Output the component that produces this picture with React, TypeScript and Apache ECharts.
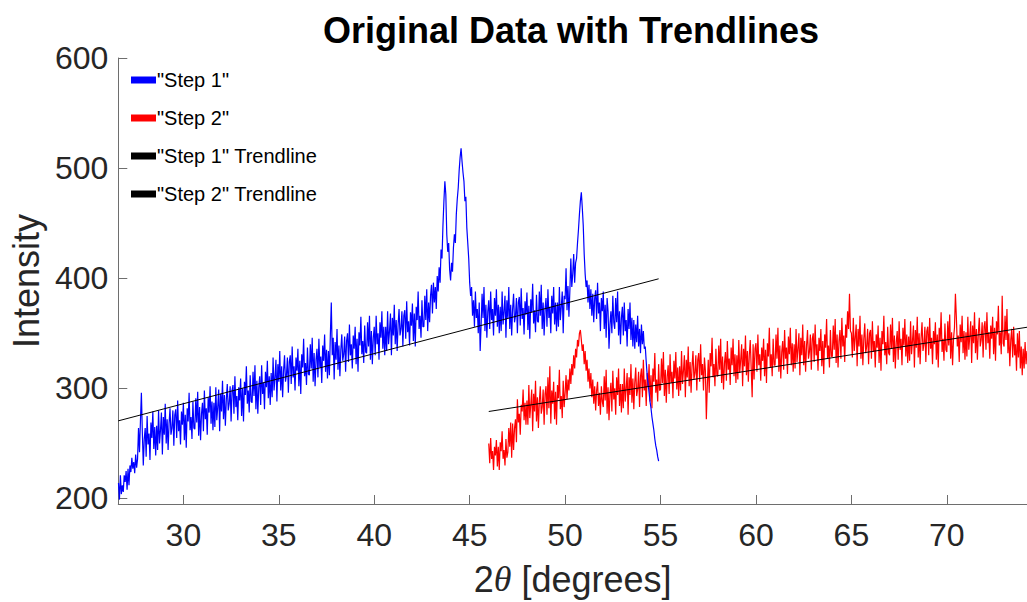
import React, { useEffect, useRef } from "react";
import * as echarts from "echarts";

// ---------- data ----------
const TITLE = "Original Data with Trendlines";
const SERIES_NAMES = ['"Step 1"', '"Step 2"', '"Step 1" Trendline', '"Step 2" Trendline'];

const SCAN_STEP = 0.05;

// Step 1: 26.60 .. 54.90 deg (one row = 1 degree)
const STEP1_START = 26.6;
const step1Values = [
  214, 199, 221, 204, 212, 206, 221, 215, 225, 208, 227, 212, 230, 224, 237, 227, 233, 223, 240, 228,
  236, 264, 242, 270, 296, 260, 230, 254, 264, 238, 275, 249, 259, 235, 269, 255, 279, 245, 265, 239,
  266, 244, 280, 250, 262, 278, 240, 274, 258, 286, 250, 272, 244, 268, 282, 258, 264, 280, 248, 276,
  281, 255, 289, 261, 271, 249, 279, 267, 287, 253, 276, 246, 282, 270, 296, 262, 274, 254, 288, 264,
  263, 291, 269, 297, 257, 283, 253, 277, 287, 261, 298, 272, 282, 258, 292, 278, 302, 268, 288, 262,
  287, 265, 301, 271, 283, 299, 261, 295, 279, 307, 272, 294, 266, 290, 304, 280, 286, 302, 270, 298,
  303, 277, 311, 283, 293, 271, 301, 289, 309, 275, 300, 270, 306, 294, 320, 286, 298, 278, 312, 288,
  287, 315, 293, 321, 281, 307, 277, 301, 311, 285, 321, 295, 305, 281, 315, 301, 325, 291, 311, 285,
  314, 292, 328, 298, 310, 326, 288, 322, 306, 334, 298, 320, 292, 316, 330, 306, 312, 328, 296, 324,
  330, 304, 338, 310, 320, 298, 328, 316, 336, 302, 325, 295, 331, 319, 345, 311, 323, 303, 337, 313,
  312, 340, 318, 346, 306, 332, 302, 326, 336, 310, 345, 319, 329, 305, 339, 325, 349, 315, 335, 309,
  334, 312, 348, 378, 330, 346, 308, 342, 326, 354, 317, 339, 311, 335, 349, 325, 331, 347, 315, 343,
  350, 324, 358, 330, 340, 318, 348, 336, 356, 322, 345, 315, 351, 339, 365, 331, 343, 323, 357, 333,
  332, 360, 338, 366, 326, 352, 322, 346, 356, 330, 366, 340, 350, 326, 360, 346, 370, 336, 356, 330,
  356, 334, 370, 340, 352, 368, 330, 364, 348, 376, 340, 362, 334, 358, 372, 348, 354, 370, 338, 366,
  371, 345, 379, 351, 361, 339, 369, 357, 377, 343, 368, 338, 374, 362, 388, 354, 366, 346, 380, 356,
  356, 384, 362, 390, 352, 378, 360, 384, 394, 368, 396, 378, 392, 372, 402, 388, 410, 396, 426, 418,
  448, 470, 488, 476, 440, 424, 432, 408, 398, 414, 406, 428, 440, 432, 458, 472, 482, 498, 510, 518,
  506, 496, 488, 470, 474, 446, 432, 418, 396, 384, 392, 366, 380, 356, 388, 364, 372, 350, 378, 334,
  358, 386, 364, 392, 352, 376, 346, 370, 380, 354, 388, 362, 372, 348, 382, 366, 390, 356, 376, 350,
  374, 352, 388, 358, 370, 384, 346, 380, 364, 392, 354, 376, 348, 372, 386, 360, 366, 382, 350, 378,
  383, 357, 391, 363, 373, 349, 379, 367, 387, 353, 375, 345, 381, 369, 395, 359, 371, 351, 385, 361,
  360, 388, 366, 394, 354, 378, 348, 372, 382, 356, 390, 364, 374, 350, 384, 368, 392, 358, 378, 352,
  378, 356, 392, 362, 374, 388, 350, 384, 381, 409, 371, 393, 365, 389, 418, 392, 404, 422, 396, 414,
  418, 432, 444, 458, 470, 478, 464, 448, 422, 404, 392, 398, 378, 394, 372, 390, 366, 386, 360, 382,
  389, 363, 396, 368, 378, 352, 382, 370, 388, 354, 376, 346, 382, 370, 336, 358, 370, 350, 384, 360,
  354, 382, 360, 388, 348, 370, 340, 364, 374, 348, 378, 352, 362, 338, 372, 354, 378, 344, 364, 338,
  362, 336, 358, 342, 366, 338, 354, 332, 358, 340, 352, 336, 338, 324, 312, 304, 296, 288, 282, 274,
  268, 262, 254, 248, 244, 238, 234,
];

// Step 2: 46.00 .. 74.20 deg (one row = 1 degree)
const STEP2_START = 46.0;
const step2Values = [
  250, 232, 255, 236, 243, 226, 247, 239, 253, 229, 247, 226, 251, 243, 261, 236, 244, 230, 254, 237,
  242, 264, 247, 269, 237, 268, 244, 264, 272, 251, 290, 269, 277, 258, 285, 279, 299, 271, 287, 267,
  289, 267, 303, 273, 285, 299, 261, 295, 279, 307, 270, 292, 264, 288, 302, 277, 283, 299, 267, 295,
  302, 276, 310, 282, 320, 268, 298, 286, 306, 272, 297, 267, 303, 291, 317, 281, 293, 273, 307, 283,
  296, 312, 290, 308, 298, 318, 304, 322, 312, 330, 318, 336, 328, 344, 338, 350, 353, 344, 334, 340,
  322, 334, 316, 326, 306, 318, 300, 314, 292, 308, 286, 302, 280, 298, 306, 284, 296, 276, 302, 288,
  283, 311, 289, 317, 277, 301, 271, 295, 305, 279, 316, 290, 300, 276, 310, 294, 318, 284, 304, 278,
  304, 282, 318, 288, 300, 314, 276, 310, 294, 322, 287, 309, 281, 305, 319, 293, 299, 315, 283, 311,
  318, 292, 326, 298, 308, 284, 314, 302, 322, 288, 312, 282, 318, 306, 332, 296, 308, 288, 322, 298,
  299, 327, 305, 333, 293, 317, 287, 311, 321, 295, 331, 305, 315, 291, 325, 309, 333, 299, 319, 293,
  320, 298, 334, 304, 316, 330, 292, 326, 310, 338, 302, 324, 296, 320, 334, 308, 314, 330, 298, 326,
  332, 306, 340, 312, 322, 298, 328, 316, 272, 302, 326, 296, 332, 320, 346, 310, 322, 302, 336, 312,
  311, 339, 317, 345, 305, 329, 299, 323, 333, 307, 343, 317, 327, 303, 337, 321, 345, 311, 331, 305,
  330, 308, 344, 314, 326, 340, 302, 336, 320, 348, 312, 334, 306, 330, 344, 318, 292, 340, 308, 336,
  341, 315, 349, 321, 331, 307, 337, 325, 345, 311, 335, 305, 341, 329, 355, 319, 331, 311, 345, 321,
  321, 349, 327, 355, 315, 339, 309, 333, 343, 317, 353, 327, 337, 313, 347, 331, 355, 321, 341, 315,
  340, 318, 354, 324, 336, 350, 312, 346, 330, 358, 321, 343, 315, 339, 353, 327, 333, 349, 317, 345,
  350, 324, 358, 330, 340, 316, 346, 334, 354, 320, 343, 313, 349, 337, 363, 327, 339, 319, 353, 329,
  329, 357, 335, 363, 323, 349, 319, 343, 353, 327, 364, 338, 348, 324, 358, 346, 370, 354, 386, 352,
  350, 328, 364, 334, 346, 358, 320, 354, 338, 366, 327, 349, 321, 345, 359, 332, 338, 354, 322, 350,
  353, 327, 361, 333, 343, 319, 349, 337, 357, 323, 346, 316, 352, 340, 366, 330, 342, 322, 356, 332,
  330, 358, 336, 364, 324, 348, 318, 342, 352, 326, 361, 335, 345, 321, 355, 339, 363, 329, 349, 323,
  347, 325, 361, 331, 343, 357, 319, 353, 337, 365, 328, 350, 322, 346, 360, 334, 340, 356, 324, 352,
  356, 330, 364, 336, 346, 322, 352, 340, 360, 326, 349, 319, 355, 343, 369, 333, 345, 325, 359, 335,
  333, 361, 339, 367, 327, 351, 321, 345, 355, 386, 364, 338, 348, 324, 358, 342, 366, 332, 352, 326,
  351, 329, 365, 335, 347, 361, 323, 357, 341, 369, 332, 354, 326, 350, 364, 338, 344, 360, 328, 356,
  361, 335, 369, 341, 351, 327, 357, 345, 365, 331, 355, 325, 361, 349, 375, 339, 351, 331, 384, 341,
  338, 366, 344, 372, 332, 350, 320, 344, 354, 328, 356, 330, 340, 316, 350, 328, 352, 318, 338, 312,
  336, 318, 342, 322, 334,
];

// Trendline end points [2θ, intensity]
const trend1 = [
  [26.59, 270.5],
  [54.9, 399.5],
];
const trend2 = [
  [46.0, 279],
  [74.2, 355.5],
];

// axis ranges
const X_MIN = 26.59;
const X_MAX = 74.2;
const Y_MIN = 195;
const Y_MAX = 600;

const FONT = "'Liberation Sans', Arial, Helvetica, sans-serif";
const TEXT = "#262626";
const AXIS = "#6e6e6e";

function toPairs(start: number, values: number[]) {
  return values.map((v, i) => [Number((start + i * SCAN_STEP).toFixed(2)), v]);
}

export default function App() {
  const ref = useRef<HTMLDivElement>(null);

  useEffect(() => {
    if (!ref.current) return;
    const chart = echarts.init(ref.current, null, { renderer: "svg" });
    chart.setOption({
      animation: false,
      backgroundColor: "#ffffff",
      textStyle: { fontFamily: FONT },
      title: {
        text: TITLE,
        left: 323,
        top: 12,
        padding: 0,
        textStyle: { fontSize: 36, fontWeight: "bold", color: "#000", fontFamily: FONT },
      },
      legend: {
        data: SERIES_NAMES,
        orient: "vertical",
        left: 131,
        top: 70,
        padding: 0,
        itemWidth: 25,
        itemHeight: 7,
        itemGap: 18,
        icon: "rect",
        selectedMode: false,
        textStyle: {
          fontSize: 20,
          lineHeight: 20,
          color: "#000",
          fontFamily: FONT,
          padding: [0, 0, 0, -4],
        },
      },
      grid: { left: 111, right: 0, top: 58, bottom: 94, containLabel: false },
      xAxis: {
        type: "value",
        min: X_MIN,
        max: X_MAX,
        splitNumber: 10,
        axisLine: { show: true, lineStyle: { color: AXIS, width: 1 } },
        axisTick: { show: true, inside: true, length: 9, lineStyle: { color: AXIS } },
        axisLabel: {
          fontSize: 32,
          color: TEXT,
          margin: 15,
          fontFamily: FONT,
          showMinLabel: false,
          showMaxLabel: false,
        },
        splitLine: { show: false },
        name: "2{i|θ} [degrees]",
        nameLocation: "middle",
        nameGap: 57,
        nameTextStyle: {
          fontSize: 36,
          color: TEXT,
          fontFamily: FONT,
          rich: {
            i: { fontSize: 36, fontStyle: "italic", color: TEXT, fontFamily: "'Liberation Serif', serif" },
          },
        },
      },
      yAxis: {
        type: "value",
        min: Y_MIN,
        max: Y_MAX,
        splitNumber: 4,
        axisLine: { show: true, lineStyle: { color: AXIS, width: 1 } },
        axisTick: { show: true, inside: true, length: 9, lineStyle: { color: AXIS } },
        axisLabel: {
          fontSize: 32,
          color: TEXT,
          margin: 10,
          fontFamily: FONT,
          showMinLabel: false,
        },
        splitLine: { show: false },
        name: "Intensity",
        nameLocation: "middle",
        nameGap: 68,
        nameTextStyle: { fontSize: 36, color: TEXT, fontFamily: FONT },
      },
      series: [
        {
          name: SERIES_NAMES[1],
          type: "line",
          data: toPairs(STEP2_START, step2Values),
          showSymbol: false,
          symbol: "none",
          color: "#ff0000",
          lineStyle: { width: 1.2, color: "#ff0000" },
          z: 2,
        },
        {
          name: SERIES_NAMES[0],
          type: "line",
          data: toPairs(STEP1_START, step1Values),
          showSymbol: false,
          symbol: "none",
          color: "#0000ff",
          lineStyle: { width: 1.2, color: "#0000ff" },
          z: 3,
        },
        {
          name: SERIES_NAMES[2],
          type: "line",
          data: trend1,
          showSymbol: false,
          symbol: "none",
          color: "#000000",
          lineStyle: { width: 1, color: "#000000" },
          z: 4,
        },
        {
          name: SERIES_NAMES[3],
          type: "line",
          data: trend2,
          showSymbol: false,
          symbol: "none",
          color: "#000000",
          lineStyle: { width: 1, color: "#000000" },
          z: 4,
        },
      ],
    });
    return () => chart.dispose();
  }, []);

  return (
    <div
      ref={ref}
      style={{ position: "absolute", left: 0, top: 0, width: 1027, height: 602 }}
    />
  );
}
